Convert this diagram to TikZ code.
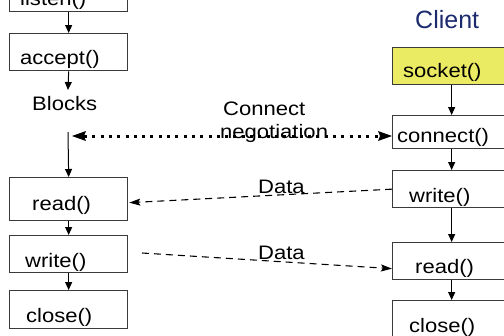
\documentclass[tikz,border=0pt]{standalone}
\usepackage{fontspec}
\setmainfont{Liberation Sans}[FakeStretch=1.13]
\newfontfamily\titlefont{Liberation Sans}
\usetikzlibrary{arrows.meta,calc}

\definecolor{boxline}{HTML}{3A3A3A}
\definecolor{sockfill}{HTML}{EBEB63}
\definecolor{clientblue}{HTML}{1C2A6E}

\tikzset{
  callbox/.style={draw=boxline, line width=1.3bp, fill=white, inner sep=0pt,
    minimum width=118bp, minimum height=#1, anchor=north west},
  calltext/.style={inner sep=0pt, anchor=base west, font=\fontsize{19.5bp}{22bp}\selectfont},
  flow/.style={draw=black, line width=1bp, -{Triangle[length=8bp,width=7bp]}},
  negotiate/.style={draw=black, line width=3bp, dash pattern=on 3bp off 5.3bp,
    {Stealth[length=14bp,width=10bp,inset=2bp,line width=0pt]}-{Stealth[length=14bp,width=10bp,inset=2bp,line width=0pt]}},
  datamsg/.style={draw=black, line width=1.1bp, dash pattern=on 7bp off 5bp,
    -{Stealth[length=11bp,width=7bp,inset=2bp]}},
}

\begin{document}
\begin{tikzpicture}[x=1bp,y=-1bp]
  \useasboundingbox (0,0) rectangle (504,335);
  \begin{scope}
    \clip (0,0) rectangle (504,335);

    % server side
    \node[callbox=36bp] (listen) at (9,-25) {};
    \node[callbox=37bp] (accept) at (9,33) {};
    \node[callbox=43bp] (read)   at (9,177) {};
    \node[callbox=37bp] (write)  at (9,235) {};
    \node[callbox=38bp] (close)  at (9,290) {};

    \node[calltext] (listenT) at (20,5)   {listen()};
    \node[calltext] (acceptT) at (20,64)  {accept()};
    \node[calltext] (blocks)  at (32,110) {Blocks};
    \node[calltext] (readT)   at (32,210) {read()};
    \node[calltext] (writeT)  at (25,267) {write()};
    \node[calltext] (closeT)  at (26,322) {close()};

    % client side
    \node[inner sep=0pt, anchor=base west, text=clientblue,
          font=\titlefont\fontsize{25bp}{28bp}\selectfont] (client) at (415,28) {Client};
    \node[callbox=37bp, fill=sockfill] (socket) at (392,47) {};
    \node[callbox=33bp] (connect) at (392,115) {};
    \node[callbox=37bp] (rwrite)  at (392,170) {};
    \node[callbox=37bp] (rread)   at (392,242) {};
    \node[callbox=40bp] (rclose)  at (392,300) {};

    \node[calltext] (socketT)  at (403,77)  {socket()};
    \node[calltext] (connectT) at (397,142) {connect()};
    \node[calltext] (rwriteT)  at (409,202) {write()};
    \node[calltext] (rreadT)   at (415,273) {read()};
    \node[calltext] (rcloseT)  at (409,332) {close()};

    % control flow
    \coordinate (blockEnd) at (68,90);
    \coordinate (waitTop)  at (68,132);
    \draw[flow] (listen.south) -- (accept.north);
    \draw[flow] (accept.south) -- (blockEnd);
    \draw[flow] (waitTop) -- (read.north);
    \draw[flow] (read.south) -- (write.north);
    \draw[flow] (write.south) -- (close.north);

    \draw[flow] (socket.south) -- (connect.north);
    \draw[flow] (connect.south) -- (rwrite.north);
    \draw[flow] (rwrite.south) -- (rread.north);
    \draw[flow] (rread.south) -- (rclose.north);

    % connection handshake
    \coordinate (negL) at (72,136);
    \draw[negotiate] (negL) -- (connect.west |- negL);
    \node[calltext] (negA) at (223,115) {Connect};
    \node[calltext] (negB) at (220,138) {negotiation};

    % data exchange
    \draw[datamsg] (rwrite.west) -- ($(read.east)+(1,3.5)$);
    \node[calltext] (data1) at (258,193) {Data};
    \coordinate (sendStart) at (142,253);
    \draw[datamsg] (sendStart) -- ($(rread.west)+(0,7.5)$);
    \node[calltext] (data2) at (258,259) {Data};
  \end{scope}
\end{tikzpicture}
\end{document}
